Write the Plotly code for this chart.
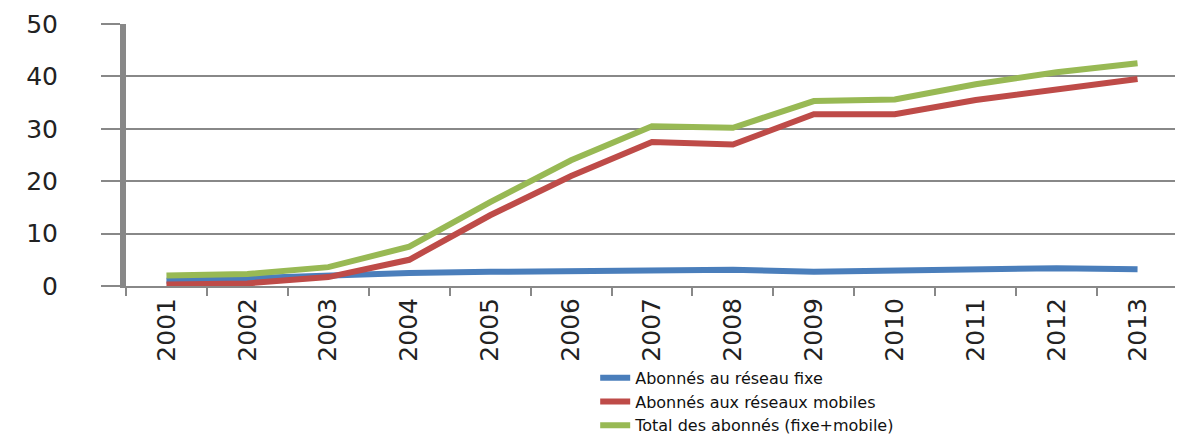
import plotly.graph_objects as go

years = ["2001", "2002", "2003", "2004", "2005", "2006", "2007",
         "2008", "2009", "2010", "2011", "2012", "2013"]
fixe = [1.0, 1.5, 2.0, 2.5, 2.7, 2.9, 3.1, 3.1, 2.7, 3.0, 3.1, 3.4, 3.2]
mobile = [0.3, 0.5, 1.7, 5.0, 13.5, 21.0, 27.5, 27.0, 32.8, 32.8, 35.5, 37.5, 39.5]
total = [2.0, 2.3, 3.6, 7.5, 16.0, 24.0, 30.5, 30.2, 35.3, 35.6, 38.5, 40.8, 42.5]
names = ["Abonnés au réseau fixe", "Abonnés aux réseaux mobiles",
         "Total des abonnés (fixe+mobile)"]
colors = ["#4a7ebb", "#be4b48", "#98b954"]
y_ticks = [0, 10, 20, 30, 40, 50]

fig = go.Figure()
for vals, name, col in zip([fixe, mobile, total], names, colors):
    fig.add_trace(go.Scatter(x=years, y=vals, name=name, mode="lines",
                             line=dict(color=col, width=6)))

fig.update_layout(
    width=1175, height=426,
    margin=dict(l=118, r=5, t=16, b=148),
    paper_bgcolor="white", plot_bgcolor="white",
    font=dict(family="DejaVu Sans, Arial, sans-serif", color="#222"),
    showlegend=True,
    legend=dict(x=0.446, y=0.172, xanchor="left", yanchor="top",
                yref="container",
                font=dict(size=16, color="#111"), tracegroupgap=0,
                bgcolor="rgba(0,0,0,0)", borderwidth=0),
)
fig.update_xaxes(type="category", tickangle=-90, tickfont=dict(size=25),
                 showline=True, linecolor="#888", linewidth=2,
                 ticks="outside", tickson="boundaries", ticklen=8,
                 tickcolor="#888", tickwidth=2, showgrid=False,
                 range=[-0.5, 12.5], automargin=False)
fig.update_yaxes(range=[0, 50], tickvals=y_ticks, tickfont=dict(size=25),
                 showgrid=True, gridcolor="#888", gridwidth=2,
                 showline=True, linecolor="#888", linewidth=6,
                 ticks="outside", ticklen=19, tickcolor="#888", tickwidth=2,
                 ticklabelstandoff=38, ticklabeloverflow="allow",
                 zeroline=False, automargin=False)

fig.write_html("out.html")
